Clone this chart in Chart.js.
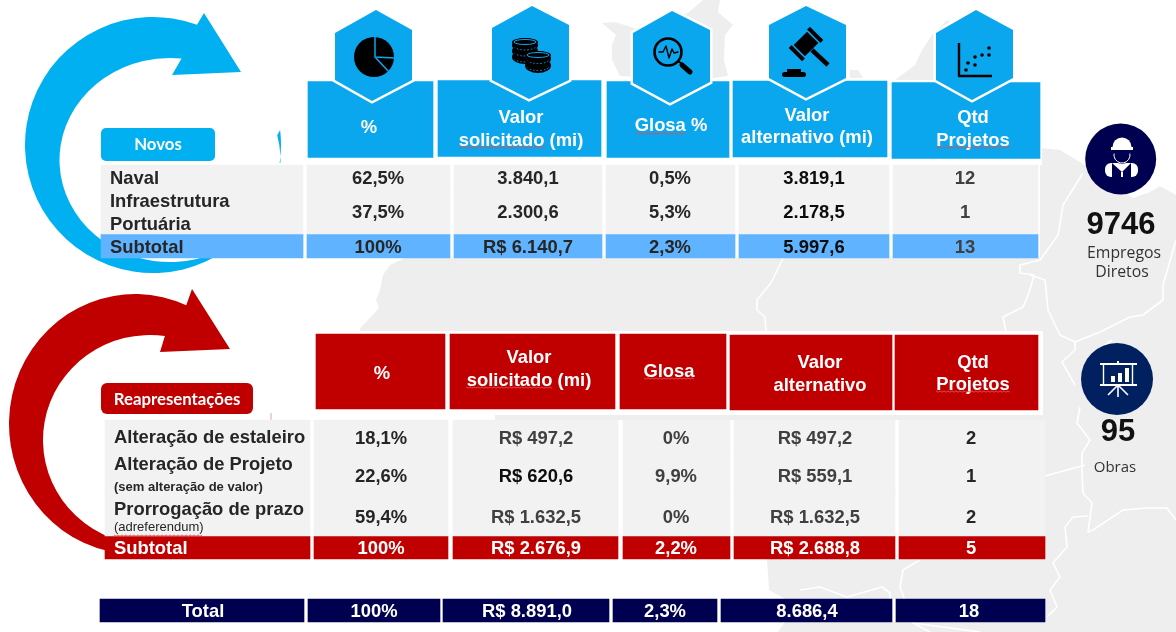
<!DOCTYPE html>
<html>
<head>
<meta charset="utf-8">
<style>
  html, body { margin: 0; padding: 0; background: #fff; }
  canvas { display: block; }
</style>
<script src="https://cdn.jsdelivr.net/npm/chart.js@4"></script>
</head>
<body>
<canvas id="painel" width="1176" height="632"></canvas>
<script>
// table values
const novosLinhas = ['Naval', 'Infraestrutura Portuária', 'Subtotal'];
const novosPct = [62.5, 37.5, 100];
const novosSolicitado = [3840.1, 2300.6, 6140.7];
const novosGlosa = [0.5, 5.3, 2.3];
const novosAlternativo = [3819.1, 2178.5, 5997.6];
const novosQtd = [12, 1, 13];

const reapLinhas = ['Alteração de estaleiro', 'Alteração de Projeto', 'Prorrogação de prazo', 'Subtotal'];
const reapPct = [18.1, 22.6, 59.4, 100];
const reapSolicitado = [497.2, 620.6, 1632.5, 2676.9];
const reapGlosa = [0, 9.9, 0, 2.2];
const reapAlternativo = [497.2, 559.1, 1632.5, 2688.8];
const reapQtd = [2, 1, 2, 5];

const totalPct = 100;
const totalSolicitado = 8891.0;
const totalGlosa = 2.3;
const totalAlternativo = 8686.4;
const totalQtd = 18;

const empregos = 9746;
const obras = 95;

// layout of the table (pixels of the page, the scales run 0-1176 and 0-632)
const novosHeadEdges = [[308, 433], [438, 601], [607, 729], [733, 887], [892, 1040]];
const novosHeadY = [119.5, 118.5, 119.5, 119, 120.5];
const novosBodyEdges = [[101, 303], [307, 450], [454, 602], [606, 735], [739, 889], [893, 1038]];
const reapHeadEdges = [[316, 445], [450, 615], [620, 726], [730, 892], [895, 1038]];
const reapHeadY = [371.5, 371.5, 371.5, 372.5, 372.5];
const reapBodyEdges = [[105, 310], [314, 448], [453, 618], [623, 730], [734, 895], [899, 1045]];
const totalEdges = [[100, 304], [308, 440], [443, 609], [613, 717], [721, 892], [896, 1045]];

const novosTextX = [378, 528, 670, 814, 965];
const reapTextX = [381, 536, 676, 815, 971];
const totalTextX = [374, 527, 665, 807, 969];

const AZUL = '#0AA6EE', AZUL_SUB = '#5FB3FF', CIANO = '#00B0F0';
const VERMELHO = '#C00000', MARINHO = '#000050', CINZA = '#F2F2F2', MAPA = '#EEEEEE';
const FONTE = '"Liberation Sans", Arial, sans-serif';

function pct(v) { return v.toLocaleString('pt-BR') + '%'; }
function mi(v, prefixo) {
  const s = v.toLocaleString('pt-BR', { minimumFractionDigits: 1, maximumFractionDigits: 1 });
  return prefixo ? 'R$ ' + s : s;
}

function linha(nome, edges, y, altura, cor) {
  return {
    label: nome,
    data: edges.map((e, i) => ({ x: e, y: Array.isArray(y) ? y[i] : y })),
    backgroundColor: cor,
    barThickness: altura,
    grouped: false
  };
}

const datasets = [
  linha('Novos cabeçalho', novosHeadEdges, novosHeadY, 76, AZUL),
  linha(novosLinhas[0], novosBodyEdges, 177.5, 25, CINZA),
  linha(novosLinhas[1], novosBodyEdges, 212, 44, CINZA),
  linha(novosLinhas[2], novosBodyEdges, 246, 24, AZUL_SUB),
  linha('Reap cabeçalho', reapHeadEdges, reapHeadY, 75, VERMELHO),
  linha(reapLinhas[0], reapBodyEdges, 435.5, 31, CINZA),
  linha(reapLinhas[1], reapBodyEdges, 473, 44, CINZA),
  linha(reapLinhas[2], reapBodyEdges, 515, 42, CINZA),
  linha(reapLinhas[3], reapBodyEdges, 547.5, 23, VERMELHO),
  linha('Total', totalEdges, 610.5, 23, MARINHO)
];

// map behind the table
const terraPrincipal = [[405,258],[390,265],[383,275],[380,290],[376,300],[379,308],[370,318],[362,326],[358,333],[358,415],[495,415],[495,420],[767,559],[769,590],[785,599],[785,622],[778,632],[1176,632],[1176,195],[1160,186],[1150,192],[1133,198],[1085,165],[1060,150],[1040,148],[1040,258]];
const terraTopo = [[602,23],[615,22],[640,30],[688,13],[703,0],[720,0],[718,12],[733,25],[725,35],[724,60],[728,76],[700,80],[620,76],[612,60],[612,45],[616,35]];
const terraDireita = [[947,20],[932,35],[922,50],[915,65],[895,80],[960,80],[960,30]];
const terraPonta = [[850,70],[858,70],[863,78],[850,78]];
const fronteiras = [
  [[783,258],[771,283],[757,300],[757,310],[765,317],[766,334]],
  [[1083,173],[1063,205],[1058,235],[1040,260],[1020,265],[1020,273],[1034,275],[1029,293],[1023,307],[1003,317],[1006,332]],
  [[1030,275],[1045,280],[1048,310],[1060,335],[1075,342],[1075,350],[1062,362],[1075,385]],
  [[1075,342],[1100,332],[1130,317],[1143,315],[1163,300],[1163,285],[1176,240]],
  [[1098,350],[1112,340]],
  [[1080,407],[1077,423],[1090,440],[1082,453],[1082,470],[1083,493],[1092,503],[1088,532],[1093,530],[1123,510],[1147,508],[1167,508],[1176,520]],
  [[1045,476],[1085,465]],
  [[1088,516],[1073,517],[1065,527],[1067,547],[1053,563],[1060,577],[1050,590],[1057,607],[1047,617]],
  [[920,560],[903,570],[900,587],[913,623],[930,632]],
  [[800,590],[820,587],[847,597],[882,587],[890,593],[890,600]],
  [[913,623],[980,632]]
];

function poligono(ctx, pts, cor) {
  ctx.beginPath();
  pts.forEach((p, i) => i ? ctx.lineTo(p[0], p[1]) : ctx.moveTo(p[0], p[1]));
  ctx.closePath();
  ctx.fillStyle = cor;
  ctx.fill();
}

function seta(ctx, cor, o, i, cabeca) {
  ctx.beginPath();
  ctx.ellipse(o.cx, o.cy, o.rx, o.ry, 0, o.a0, o.a1, true);
  ctx.ellipse(i.cx, i.cy, i.rx, i.ry, 0, i.a0, i.a1, false);
  cabeca.forEach(p => ctx.lineTo(p[0], p[1]));
  ctx.closePath();
  ctx.fillStyle = cor;
  ctx.fill();
}

function rad(g) { return g * Math.PI / 180; }

function fundo(ctx) {
  [terraPrincipal, terraTopo, terraDireita, terraPonta].forEach(t => poligono(ctx, t, MAPA));
  ctx.strokeStyle = '#fff';
  ctx.lineWidth = 1.6;
  ctx.lineJoin = 'round';
  fronteiras.forEach(f => {
    ctx.beginPath();
    f.forEach((p, i) => i ? ctx.lineTo(p[0], p[1]) : ctx.moveTo(p[0], p[1]));
    ctx.stroke();
  });

  seta(ctx, CIANO,
    { cx: 153, cy: 145, rx: 128, ry: 128, a0: rad(-69.9), a1: rad(-6.7) },
    { cx: 170, cy: 160, rx: 110.5, ry: 102, a0: rad(-14), a1: rad(-84) },
    [[172, 75], [241, 72], [204, 13]]);
  seta(ctx, VERMELHO,
    { cx: 135, cy: 424, rx: 126, ry: 130, a0: rad(-66), a1: rad(85) },
    { cx: 150, cy: 440, rx: 107, ry: 105, a0: rad(100), a1: rad(-82) },
    [[160, 352], [230, 349], [192, 289]]);
  ctx.fillStyle = '#E8A0A0';
  ctx.fillRect(270.5, 413, 1, 7);

  // white behind the table, so the gaps between the cells are not map
  ctx.fillStyle = '#fff';
  ctx.fillRect(305, 80, 737, 85);
  ctx.fillRect(101, 163, 938, 95);
  ctx.fillRect(313, 331, 730, 84);
  ctx.fillRect(105, 420, 940, 139);
  ctx.fillRect(100, 599, 945, 23);
}

function hexagono(ctx, pts) {
  ctx.beginPath();
  pts.forEach((p, i) => i ? ctx.lineTo(p[0], p[1]) : ctx.moveTo(p[0], p[1]));
  ctx.closePath();
  ctx.lineJoin = 'miter';
  ctx.strokeStyle = '#fff';
  ctx.lineWidth = 5;
  ctx.stroke();
  ctx.fillStyle = AZUL;
  ctx.fill();
}

function iconePizza(ctx) {
  ctx.fillStyle = '#000';
  ctx.beginPath(); ctx.arc(374, 57, 20, 0, Math.PI * 2); ctx.fill();
  ctx.strokeStyle = AZUL; ctx.lineWidth = 1.5;
  ctx.beginPath(); ctx.moveTo(375, 36); ctx.lineTo(375, 57); ctx.lineTo(395, 58);
  ctx.moveTo(375, 57); ctx.lineTo(389, 72); ctx.stroke();
}

function moeda(ctx, x, y, rx, ry, n, passo) {
  for (let k = n - 1; k >= 0; k--) {
    const cy = y + k * passo;
    ctx.fillStyle = '#000';
    ctx.beginPath();
    ctx.ellipse(x, cy + passo / 2, rx, ry + passo / 2, 0, 0, Math.PI * 2);
    ctx.fill();
    ctx.strokeStyle = AZUL; ctx.lineWidth = 1; ctx.setLineDash([1.5, 2]);
    ctx.beginPath(); ctx.ellipse(x, cy + passo / 2 + 1, rx - 2, ry, 0, rad(20), rad(160)); ctx.stroke();
    ctx.setLineDash([]);
  }
  ctx.fillStyle = '#000';
  ctx.beginPath(); ctx.ellipse(x, y, rx, ry, 0, 0, Math.PI * 2); ctx.fill();
  ctx.strokeStyle = AZUL; ctx.lineWidth = 1;
  ctx.beginPath(); ctx.ellipse(x, y, rx - 2, ry - 1.5, 0, 0, Math.PI * 2); ctx.stroke();
}

function iconeMoedas(ctx) {
  moeda(ctx, 525, 42, 13, 4, 3, 6);
  moeda(ctx, 538, 55, 13, 4, 2, 7);
}

function iconeLupa(ctx) {
  ctx.strokeStyle = '#000'; ctx.lineWidth = 2.6;
  ctx.beginPath(); ctx.arc(668, 52, 13.5, 0, Math.PI * 2); ctx.stroke();
  ctx.lineCap = 'round'; ctx.lineWidth = 5;
  ctx.beginPath(); ctx.moveTo(682, 65); ctx.lineTo(690, 72); ctx.stroke();
  ctx.lineWidth = 2;
  ctx.beginPath(); ctx.moveTo(682, 64); ctx.lineTo(678, 61); ctx.stroke();
  ctx.lineWidth = 1.4; ctx.lineJoin = 'round';
  ctx.beginPath();
  [[659,52],[663,52],[666,46],[669,58],[672,49],[674,53],[678,52]].forEach((p, i) => i ? ctx.lineTo(p[0], p[1]) : ctx.moveTo(p[0], p[1]));
  ctx.stroke();
  ctx.lineCap = 'butt';
}

function iconeMartelo(ctx) {
  ctx.save();
  ctx.translate(806, 44);
  ctx.rotate(rad(45));
  ctx.fillStyle = '#000';
  ctx.fillRect(-8, -9.5, 16, 19);
  ctx.fillRect(-9.5, -15, 19, 4);
  ctx.fillRect(-9.5, 11, 19, 4);
  ctx.restore();
  ctx.strokeStyle = '#000'; ctx.lineWidth = 4.5;
  ctx.beginPath(); ctx.moveTo(812, 50); ctx.lineTo(828, 65); ctx.stroke();
  ctx.fillStyle = '#000';
  ctx.beginPath(); ctx.roundRect(782, 72, 24, 5, 2.5); ctx.fill();
  ctx.fillRect(787, 69, 14, 4);
}

function iconeDispersao(ctx) {
  ctx.strokeStyle = '#000'; ctx.lineWidth = 2.4;
  ctx.beginPath(); ctx.moveTo(959, 43); ctx.lineTo(959, 76); ctx.lineTo(992, 76); ctx.stroke();
  ctx.fillStyle = '#000';
  [[966,70],[968,63],[975,65],[975,57],[982,55],[989,55],[989,48]].forEach(p => {
    ctx.beginPath(); ctx.arc(p[0], p[1], 1.8, 0, Math.PI * 2); ctx.fill();
  });
}

function iconeOperario(ctx) {
  ctx.fillStyle = MARINHO;
  ctx.beginPath(); ctx.arc(1120.7, 159, 35.5, 0, Math.PI * 2); ctx.fill();
  ctx.fillStyle = '#fff';
  // shoulders
  ctx.beginPath(); ctx.roundRect(1105, 163, 33, 14, 6); ctx.fill();
  ctx.fillStyle = MARINHO;
  ctx.beginPath(); ctx.moveTo(1112, 163); ctx.lineTo(1122, 172); ctx.lineTo(1131, 163); ctx.lineTo(1131, 177); ctx.lineTo(1123, 177); ctx.lineTo(1123, 172); ctx.lineTo(1121, 172); ctx.lineTo(1121, 177); ctx.lineTo(1112, 177); ctx.closePath(); ctx.fill();
  // face
  ctx.beginPath(); ctx.arc(1122, 155, 9, 0, Math.PI * 2); ctx.fill();
  ctx.strokeStyle = '#fff'; ctx.lineWidth = 1;
  ctx.beginPath(); ctx.arc(1122, 155, 8, rad(-10), rad(190)); ctx.stroke();
  // helmet
  ctx.fillStyle = '#fff';
  ctx.beginPath(); ctx.arc(1122, 147, 9.5, Math.PI, 0); ctx.fill();
  ctx.fillRect(1111, 147, 22, 3);
}

function iconeObras(ctx) {
  ctx.fillStyle = '#002060';
  ctx.beginPath(); ctx.arc(1117, 379, 36, 0, Math.PI * 2); ctx.fill();
  ctx.fillStyle = '#fff';
  ctx.fillRect(1100, 363, 37, 2);
  ctx.fillRect(1100, 384, 37, 2);
  ctx.fillRect(1117, 361, 2, 2);
  ctx.strokeStyle = '#fff'; ctx.lineWidth = 1.4;
  ctx.strokeRect(1103.5, 364, 29, 21);
  ctx.fillRect(1111, 376, 4, 6);
  ctx.fillRect(1118, 373, 4, 9);
  ctx.fillRect(1125, 368, 4, 14);
  ctx.lineWidth = 1.6;
  ctx.beginPath(); ctx.moveTo(1117, 386); ctx.lineTo(1108, 395);
  ctx.moveTo(1118, 386); ctx.lineTo(1118, 397);
  ctx.moveTo(1119, 386); ctx.lineTo(1128, 395); ctx.stroke();
}

function ondulado(ctx, x0, x1, y) {
  ctx.strokeStyle = '#E05050'; ctx.lineWidth = 0.9;
  ctx.beginPath();
  for (let x = x0, k = 0; x <= x1; x += 2, k++) {
    k ? ctx.lineTo(x, y + (k % 2 ? 1.2 : 0)) : ctx.moveTo(x, y);
  }
  ctx.stroke();
}

const placasPlugin = {
  id: 'placas',
  beforeDatasetsDraw(chart) { fundo(chart.ctx); },
  afterDatasetsDraw(chart) {
    const ctx = chart.ctx, sx = chart.scales.x, sy = chart.scales.y;
    function txt(s, x, y, fonte, cor, alin) {
      ctx.font = fonte;
      ctx.fillStyle = cor;
      ctx.textAlign = alin || 'center';
      ctx.textBaseline = 'middle';
      ctx.fillText(s, sx.getPixelForValue(x), sy.getPixelForValue(y + 1.5));
    }
    const B18 = 'bold 18.4px ' + FONTE;
    const ESC = '#262626', MED = '#404040', PRE = '#0D0D0D';

    ctx.save();
    // icons on top of the header cells
    hexagono(ctx, [[376,10],[412,30],[412,80],[372,101],[335,80],[335,33]]);
    hexagono(ctx, [[532,6],[569,25],[569,80],[529,99],[492,80],[492,28]]);
    hexagono(ctx, [[672,11],[710,30],[710,82],[670,103],[633,83],[633,33]]);
    hexagono(ctx, [[806,6],[846,25],[846,78],[806,98],[769,78],[769,25]]);
    hexagono(ctx, [[976,10],[1013,30],[1013,78],[972,100],[936,80],[936,33]]);
    iconePizza(ctx); iconeMoedas(ctx); iconeLupa(ctx); iconeMartelo(ctx); iconeDispersao(ctx);
    iconeOperario(ctx); iconeObras(ctx);

    // section badges
    ctx.fillStyle = CIANO;
    ctx.beginPath(); ctx.roundRect(101, 128, 114, 33, 5); ctx.fill();
    ctx.fillStyle = VERMELHO;
    ctx.beginPath(); ctx.roundRect(101, 383, 152, 31, 6); ctx.fill();
    txt('Novos', 158, 143, 'bold 16.8px Lato, sans-serif', '#fff');
    txt('Reapresentações', 177, 398, 'bold 16.8px Lato, sans-serif', '#fff');

    // blue header
    txt('%', 369, 126, B18, '#fff');
    txt('Valor', 521, 116, B18, '#fff');
    txt('solicitado (mi)', 521, 139, B18, '#fff');
    txt('Glosa %', 671, 124, B18, '#fff');
    txt('Valor', 807, 114, B18, '#fff');
    txt('alternativo (mi)', 807, 136, B18, '#fff');
    txt('Qtd', 973, 116, B18, '#fff');
    txt('Projetos', 973, 139, B18, '#fff');

    // blue body
    txt(novosLinhas[0], 110, 177, B18, ESC, 'left');
    txt('Infraestrutura', 110, 200, B18, ESC, 'left');
    txt('Portuária', 110, 223, B18, ESC, 'left');
    txt(novosLinhas[2], 110, 246, B18, ESC, 'left');
    const novosY = [177, 211, 246];
    novosY.forEach((y, i) => {
      const sub = i === 2;
      txt(pct(novosPct[i]), novosTextX[0], y, B18, ESC);
      txt(mi(novosSolicitado[i], sub), novosTextX[1], y, B18, ESC);
      txt(pct(novosGlosa[i]), novosTextX[2], y, B18, ESC);
      txt(mi(novosAlternativo[i], false), novosTextX[3], y, B18, PRE);
      txt(String(novosQtd[i]), novosTextX[4], y, B18, MED);
    });

    // red header
    txt('%', 382, 372, B18, '#fff');
    txt('Valor', 529, 356, B18, '#fff');
    txt('solicitado (mi)', 529, 379, B18, '#fff');
    txt('Glosa', 669, 370, B18, '#fff');
    txt('Valor', 820, 361, B18, '#fff');
    txt('alternativo', 820, 384, B18, '#fff');
    txt('Qtd', 973, 361, B18, '#fff');
    txt('Projetos', 973, 383, B18, '#fff');

    // red body
    txt(reapLinhas[0], 114, 436, B18, ESC, 'left');
    txt(reapLinhas[1], 114, 463, B18, ESC, 'left');
    txt('(sem alteração de valor)', 114, 486, 'bold 13px ' + FONTE, ESC, 'left');
    txt(reapLinhas[2], 114, 508, B18, ESC, 'left');
    txt('(adreferendum)', 114, 526, '13px ' + FONTE, ESC, 'left');
    txt(reapLinhas[3], 114, 547, B18, '#fff', 'left');
    const reapY = [437, 475, 516, 547];
    reapY.forEach((y, i) => {
      const sub = i === 3;
      const cor = sub ? '#fff' : ESC;
      txt(pct(reapPct[i]), reapTextX[0], y, B18, cor);
      txt(mi(reapSolicitado[i], true), reapTextX[1], y, B18, sub ? '#fff' : (i === 1 ? PRE : MED));
      txt(pct(reapGlosa[i]), reapTextX[2], y, B18, sub ? '#fff' : MED);
      txt(mi(reapAlternativo[i], true), reapTextX[3], y, B18, sub ? '#fff' : MED);
      txt(String(reapQtd[i]), reapTextX[4], y, B18, cor);
    });

    // total row
    txt('Total', 203, 610, B18, '#fff');
    txt(pct(totalPct), totalTextX[0], 610, B18, '#fff');
    txt(mi(totalSolicitado, true), totalTextX[1], 610, B18, '#fff');
    txt(pct(totalGlosa), totalTextX[2], 610, B18, '#fff');
    txt(mi(totalAlternativo, false), totalTextX[3], 610, B18, '#fff');
    txt(String(totalQtd), totalTextX[4], 610, B18, '#fff');

    // side figures
    const LEVE = '15.8px "Open Sans", sans-serif';
    txt(String(empregos), 1121, 224, 'bold 31px ' + FONTE, '#111');
    txt('Empregos', 1124, 252, LEVE, '#333');
    txt('Diretos', 1122, 271, LEVE, '#333');
    txt(String(obras), 1118, 431, 'bold 31px ' + FONTE, '#111');
    txt('Obras', 1115, 466, '15px "Open Sans", sans-serif', '#333');

    // spell check squiggles from the original screenshot
    ondulado(ctx, 459, 546, 147);
    ondulado(ctx, 635, 686, 133);
    ondulado(ctx, 936, 1010, 147);
    ondulado(ctx, 466, 553, 387);
    ondulado(ctx, 644, 694, 378);
    ondulado(ctx, 936, 1011, 391);
    ondulado(ctx, 114, 203, 535);
    ctx.restore();
  }
};

new Chart(document.getElementById('painel').getContext('2d'), {
  type: 'bar',
  data: { datasets },
  options: {
    indexAxis: 'y',
    responsive: false,
    animation: false,
    layout: { padding: 0 },
    plugins: { legend: { display: false }, tooltip: { enabled: false } },
    scales: {
      x: { type: 'linear', min: 0, max: 1176, display: false },
      y: { type: 'linear', min: 0, max: 632, reverse: true, offset: false, display: false }
    }
  },
  plugins: [placasPlugin]
});
</script>
</body>
</html>
